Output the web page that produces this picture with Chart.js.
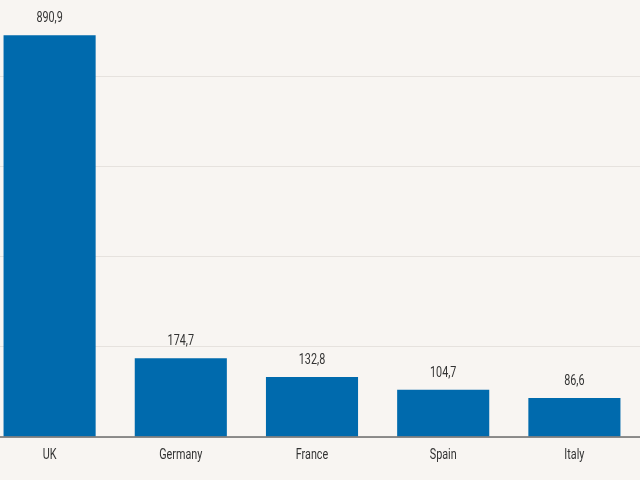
<!DOCTYPE html>
<html>
<head>
<meta charset="utf-8">
<script src="https://cdn.jsdelivr.net/npm/chart.js@4"></script>
<style>
  html, body { margin: 0; background: #f8f5f2; overflow: hidden; width: 640px; height: 480px; }
  canvas { display: block; margin-left: -16px; margin-top: -14px; }
</style>
</head>
<body>
<canvas id="grafica" width="657" height="494"></canvas>
<script>
// datos del gráfico
const paises = ['UK', 'Germany', 'France', 'Spain', 'Italy'];
const valores = [890.9, 174.7, 132.8, 104.7, 86.6];
const ticksY = [0, 200, 400, 600, 800, 1000];

const fuente = '"Roboto", sans-serif';
const estrecho = 0.72; // simula una fuente condensada

function textoEstrecho(ctx, texto, x, y) {
    ctx.save();
    ctx.translate(x, y);
    ctx.scale(estrecho, 1);
    ctx.fillText(texto, 0, 0);
    ctx.restore();
}

// etiquetas de valor y nombres de países
const etiquetas = {
    id: 'etiquetas',
    afterDatasetsDraw(chart) {
        const ctx = chart.ctx;
        const meta = chart.getDatasetMeta(0);
        const escalaX = chart.scales.x;
        ctx.save();
        ctx.font = '15px ' + fuente;
        ctx.fillStyle = '#333333';
        ctx.textAlign = 'center';
        ctx.textBaseline = 'middle';
        meta.data.forEach((bar, i) => {
            const texto = valores[i].toFixed(1).replace('.', ',');
            textoEstrecho(ctx, texto, bar.x, bar.y - 17);
        });
        paises.forEach((p, i) => {
            textoEstrecho(ctx, p, escalaX.getPixelForTick(i), chart.chartArea.bottom + 18);
        });
        ctx.restore();
    }
};

// línea base del eje x
const lineaBase = {
    id: 'lineaBase',
    afterDatasetsDraw(chart) {
        const ctx = chart.ctx;
        const y = chart.scales.y.getPixelForValue(0);
        ctx.save();
        ctx.strokeStyle = '#6b6b6b';
        ctx.lineWidth = 1.5;
        ctx.beginPath();
        ctx.moveTo(0, y);
        ctx.lineTo(chart.width, y);
        ctx.stroke();
        ctx.restore();
    }
};

const ctx = document.getElementById('grafica').getContext('2d');

window.myChart = new Chart(ctx, {
    type: 'bar',
    data: {
        labels: paises,
        datasets: [{
            data: valores,
            backgroundColor: '#006aad',
            borderWidth: 0,
            barPercentage: 0.78,
            categoryPercentage: 0.9,
        }],
    },
    options: {
        responsive: false,
        devicePixelRatio: 1,
        animation: false,
        layout: {
            padding: { left: 0, right: 1, top: 0, bottom: 0 }
        },
        plugins: {
            legend: { display: false },
            tooltip: { enabled: false },
        },
        scales: {
            x: {
                grid: { display: false, drawTicks: false },
                border: { display: false },
                ticks: { display: false },
                afterFit: (scale) => { scale.height = 43; },
            },
            y: {
                display: true,
                min: 0,
                max: 1000,
                afterBuildTicks: (scale) => {
                    scale.ticks = ticksY.map(v => ({ value: v }));
                },
                grid: {
                    color: (c) => c.tick.value === 1000 ? 'rgba(0,0,0,0)' : '#e6e2de',
                    lineWidth: 1,
                    drawTicks: false,
                },
                border: { display: false },
                ticks: { display: false },
                afterFit: (scale) => { scale.width = 0; },
            },
        },
    },
    plugins: [lineaBase, etiquetas],
});
</script>
</body>
</html>
